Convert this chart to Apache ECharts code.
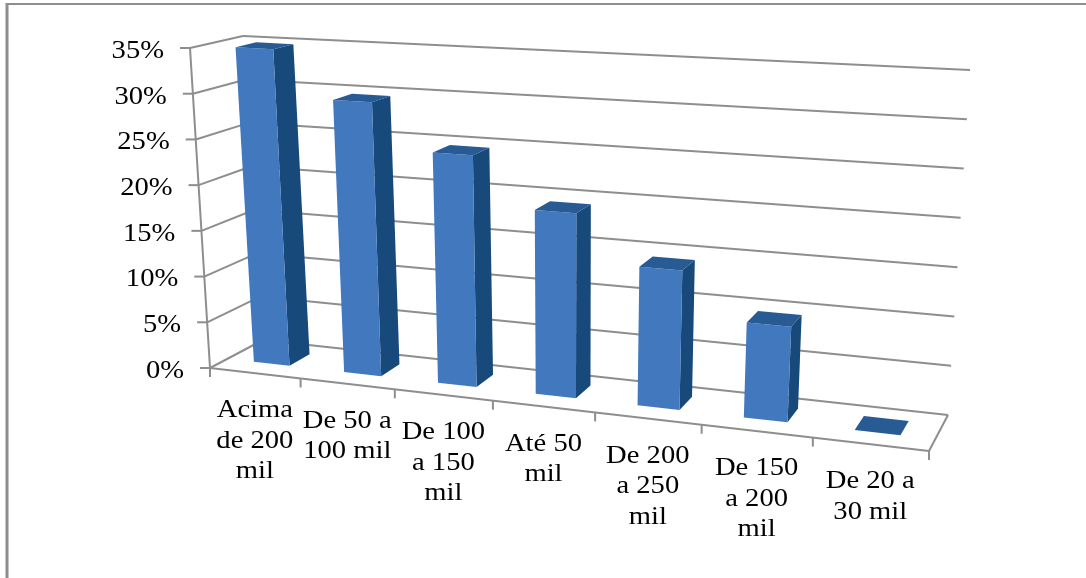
<!DOCTYPE html>
<html>
<head>
<meta charset="utf-8">
<style>
html, body { margin: 0; padding: 0; background: #fff; }
#chart { width: 1086px; height: 578px; }
</style>
<script src="https://cdn.jsdelivr.net/npm/echarts@6/dist/echarts.min.js"></script>
</head>
<body>
<div id="chart"></div>
<script>
var categories = ['Acima\nde 200\nmil', 'De 50 a\n100 mil', 'De 100\na 150\nmil', 'Até 50\nmil', 'De 200\na 250\nmil', 'De 150\na 200\nmil', 'De 20 a\n30 mil'];
var values = [34.8, 29.6, 24.6, 19.3, 14.3, 9.6, 0];
var yTicks = [0, 5, 10, 15, 20, 25, 30, 35];

var GRAY = '#8e8e8e';
var FONT = '26px "Liberation Serif", serif';

// corners of the 3d box on screen, [u][depth][height]
var box = [
    [[[210, 368], [190, 48]], [[263, 340], [243, 36]]],
    [[[929, 451], [951, 88]], [[948, 415], [970, 70]]]
];

// t: 0..1 along the categories, h: 0..1 up the value axis, d: 0 front, 1 back
function project(t, h, d) {
    var a = 0.865;
    var u = a * t / (1 + (a - 1) * t);
    var out = [];
    for (var k = 0; k < 2; k++) {
        out[k] = (1 - u) * (1 - d) * ((1 - h) * box[0][0][0][k] + h * box[0][0][1][k])
            + (1 - u) * d * ((1 - h) * box[0][1][0][k] + h * box[0][1][1][k])
            + u * (1 - d) * ((1 - h) * box[1][0][0][k] + h * box[1][0][1][k])
            + u * d * ((1 - h) * box[1][1][0][k] + h * box[1][1][1][k]);
    }
    return out;
}

function line(p, q) {
    return {
        type: 'line',
        shape: { x1: p[0], y1: p[1], x2: q[0], y2: q[1] },
        style: { stroke: GRAY, lineWidth: 2 }
    };
}

function face(pts, color) {
    return { type: 'polygon', shape: { points: pts }, style: { fill: color } };
}

function flat(params, api, index, value) {
    var sys = params.coordSys;
    var c = api.coord([index, value]);
    return [(c[0] - sys.x) / sys.width, (sys.y + sys.height - c[1]) / sys.height];
}

function renderGrid(params, api) {
    var h = flat(params, api, 0, api.value(0))[1];
    var front = project(0, h, 0);
    var children = [
        line(project(0, h, 1), project(1, h, 1)),
        line(front, project(0, h, 1)),
        line(front, [front[0] - 10, front[1]]),
        {
            type: 'text',
            x: front[0] - 26,
            y: front[1] + 3,
            scaleX: 1.1,
            style: { text: api.value(0) + '%', font: FONT, fill: '#000', align: 'right', verticalAlign: 'middle' }
        }
    ];
    return { type: 'group', children: children };
}

function renderFloor(params, api) {
    var n = categories.length;
    var children = [
        line(project(0, 0, 0), project(1, 0, 0)),
        line(project(1, 0, 0), project(1, 0, 1)),
        line(project(0, 0, 0), project(0, 1, 0))
    ];
    for (var i = 0; i <= n; i++) {
        var p = project(i / n, 0, 0);
        children.push(line(p, [p[0], p[1] + 9]));
    }
    return { type: 'group', children: children };
}

function renderBar(params, api) {
    var i = api.value(0);
    var f = flat(params, api, i, api.value(1));
    var half = api.size([1, 0])[0] * 0.2 / params.coordSys.width;
    var t0 = f[0] - half, t1 = f[0] + half, h = f[1];
    var dF = 0.33, dB = 0.73;
    var a = project(t0, 0, dF), b = project(t1, 0, dF), c = project(t1, 0, dB);
    var A = project(t0, h, dF), B = project(t1, h, dF), C = project(t1, h, dB), D = project(t0, h, dB);
    var children = [];
    if (h > 0) {
        children.push(face([b, c, C, B], '#17497a'));
        children.push(face([a, b, B, A], '#4178be'));
    }
    children.push(face([A, B, C, D], '#285a93'));
    return { type: 'group', children: children };
}

function renderLabel(params, api) {
    var i = api.value(0);
    var f = flat(params, api, i, 0);
    var p = project(f[0], 0, 0);
    return {
        type: 'text',
        x: p[0],
        y: p[1] + 22,
        scaleX: 1.1,
        style: { text: categories[i], font: FONT, fill: '#000', align: 'center', verticalAlign: 'top', lineHeight: 30.5 }
    };
}

var chart = echarts.init(document.getElementById('chart'), null, { renderer: 'canvas' });

chart.setOption({
    backgroundColor: '#fff',
    animation: false,
    graphic: [
        { type: 'line', shape: { x1: 7, y1: 3, x2: 7, y2: 578 }, style: { stroke: GRAY, lineWidth: 3 } },
        { type: 'line', shape: { x1: 6, y1: 4, x2: 1086, y2: 4 }, style: { stroke: GRAY, lineWidth: 2 } }
    ],
    grid: { left: 100, right: 100, top: 100, bottom: 100 },
    xAxis: { type: 'category', data: categories, show: false },
    yAxis: { type: 'value', min: 0, max: 35, interval: 5, show: false },
    series: [
        { type: 'custom', renderItem: renderGrid, data: yTicks.map(function (v) { return [v]; }), encode: { y: 0 }, z: 1, silent: true },
        { type: 'custom', renderItem: renderFloor, data: [[0]], z: 1, silent: true },
        { type: 'custom', renderItem: renderBar, data: values.map(function (v, i) { return [i, v]; }), encode: { x: 0, y: 1 }, z: 2, silent: true },
        { type: 'custom', renderItem: renderLabel, data: categories.map(function (c, i) { return [i]; }), encode: { x: 0 }, z: 3, silent: true }
    ]
});
</script>
</body>
</html>
